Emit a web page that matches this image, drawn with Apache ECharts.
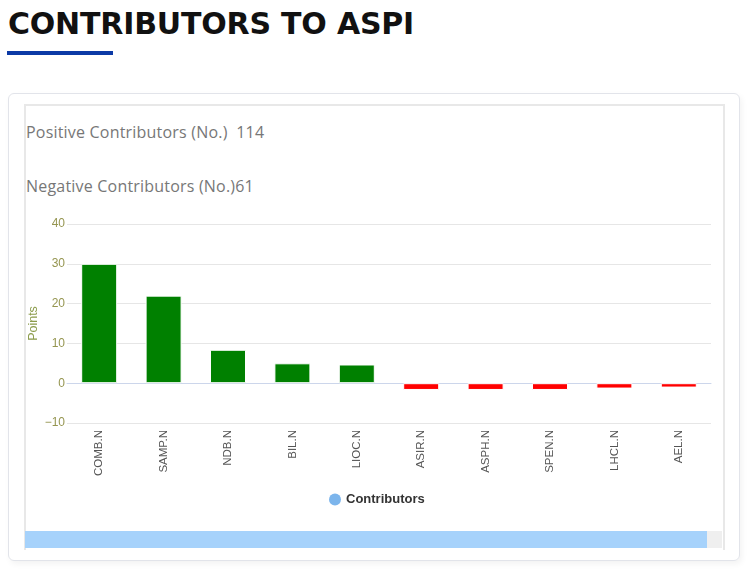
<!DOCTYPE html>
<html>
<head>
  <meta charset="utf-8">
  <title>Contributors to ASPI</title>
  <script src="https://cdn.jsdelivr.net/npm/echarts@6/dist/echarts.min.js"></script>
  <style type="text/css">
    body {
      margin: 0;
      padding: 0;
      background: #fff;
      width: 750px;
      height: 580px;
      overflow: hidden;
      position: relative;
    }
    .page-title {
      position: absolute;
      left: 8px;
      top: 9px;
      margin: 0;
      font-family: "DejaVu Sans", sans-serif;
      font-weight: bold;
      font-size: 30px;
      line-height: 30px;
      letter-spacing: -0.2px;
      color: #111;
    }
    .title-bar {
      position: absolute;
      left: 7px;
      top: 51px;
      width: 106px;
      height: 4px;
      background: #0c3aa6;
    }
    .card {
      position: absolute;
      left: 8px;
      top: 93px;
      width: 730px;
      height: 466px;
      border: 1px solid #e2e4ea;
      border-radius: 6px;
      box-shadow: 2px 3px 6px rgba(0, 0, 0, 0.05);
    }
    .inner {
      position: absolute;
      left: 24px;
      top: 104px;
      width: 697px;
      height: 444px;
      border: 2px solid #e8e8e8;
      border-bottom: none;
    }
    .count {
      position: absolute;
      left: 26px;
      font-family: "Open Sans", sans-serif;
      font-size: 16px;
      line-height: 16px;
      letter-spacing: 0.2px;
      color: #777;
      white-space: pre;
    }
    .scroll-track {
      position: absolute;
      left: 25px;
      top: 531px;
      width: 697px;
      height: 17px;
      background: #efefef;
    }
    .scroll-thumb {
      position: absolute;
      left: 0;
      top: 0;
      width: 682px;
      height: 17px;
      background: #a6d2fb;
    }
    #main {
      position: absolute;
      left: 0;
      top: 0;
      width: 750px;
      height: 580px;
    }
  </style>
</head>
<body>
<h1 class="page-title">CONTRIBUTORS TO ASPI</h1>
<div class="title-bar"></div>
<div class="card"></div>
<div class="inner"></div>
<div class="count" id="pos" style="top:124px;"></div>
<div class="count" id="neg" style="top:178px;"></div>
<div class="scroll-track"><div class="scroll-thumb"></div></div>
<div id="main"></div>
<script>
  // 数据
  var positiveCount = 114;
  var negativeCount = 61;
  var categories = ['COMB.N', 'SAMP.N', 'NDB.N', 'BIL.N', 'LIOC.N', 'ASIR.N', 'ASPH.N', 'SPEN.N', 'LHCL.N', 'AEL.N'];
  var points = [30.0, 22.0, 8.4, 5.0, 4.7, -1.7, -1.7, -1.7, -1.35, -1.1];
  var yTicks = [-10, 0, 10, 20, 30, 40];

  document.getElementById('pos').textContent = 'Positive Contributors (No.)  ' + positiveCount;
  document.getElementById('neg').textContent = 'Negative Contributors (No.)' + negativeCount;

  var myChart = echarts.init(document.getElementById('main'));
  var option = {
    textStyle: {
      fontFamily: 'Liberation Sans'
    },
    animation: false,
    legend: {
      left: 324,
      top: 488,
      icon: 'circle',
      itemWidth: 12,
      itemHeight: 12,
      itemGap: 8,
      textStyle: {
        fontSize: 13,
        fontWeight: 'bold',
        color: '#333'
      },
      data: [{ name: 'Contributors', itemStyle: { color: '#7cb5ec' } }]
    },
    grid: {
      left: 67,
      right: 39,
      top: 224,
      bottom: 157
    },
    xAxis: {
      type: 'category',
      data: categories,
      axisLine: {
        lineStyle: {
          color: '#ccd6eb'
        }
      },
      axisTick: {
        show: false
      },
      axisLabel: {
        rotate: 90,
        margin: 7,
        fontSize: 11.5,
        color: '#555'
      }
    },
    yAxis: {
      type: 'value',
      min: yTicks[0],
      max: yTicks[yTicks.length - 1],
      interval: 10,
      name: 'Points',
      nameLocation: 'middle',
      nameGap: 27,
      nameMoveOverlap: false,
      nameTextStyle: {
        color: '#8c9c4c',
        fontSize: 12.5
      },
      axisLine: {
        show: false
      },
      axisTick: {
        show: false
      },
      axisLabel: {
        margin: 2,
        fontSize: 12,
        color: '#959550',
        formatter: function (v) {
          return String(v).replace('-', '\u2212');
        }
      },
      splitLine: {
        lineStyle: {
          color: '#e6e6e6'
        }
      }
    },
    series: [
      {
        name: 'Contributors',
        type: 'bar',
        barWidth: 36,
        color: '#7cb5ec',
        data: points.map(function (v) {
          return {
            value: v,
            itemStyle: {
              color: v >= 0 ? '#008000' : '#ff0000',
              borderColor: '#ffffff',
              borderWidth: 1
            }
          };
        })
      }
    ]
  };
  myChart.setOption(option);
</script>
</body>
</html>
